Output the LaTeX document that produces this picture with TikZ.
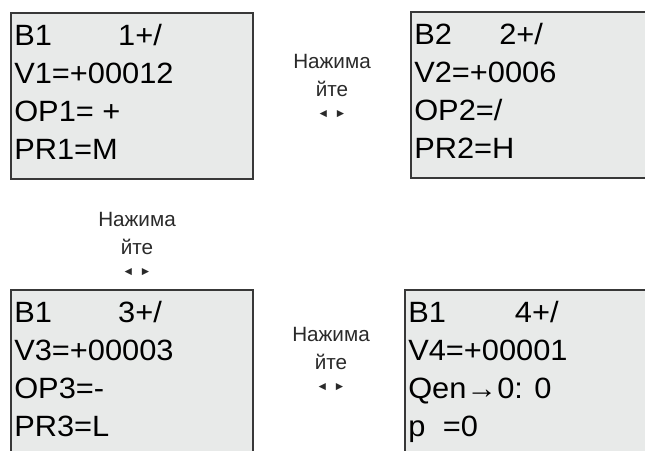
\documentclass[tikz,border=0pt]{standalone}
\usepackage{fontspec}
\setmainfont{Liberation Sans}
\newfontfamily\lcdfont[FakeStretch=1.05]{Liberation Sans}
\usetikzlibrary{positioning}

\definecolor{lcdgray}{HTML}{E8EAE9}
\definecolor{lcdframe}{HTML}{383838}
\definecolor{keytext}{HTML}{2A2A2A}

\newcommand{\presskeys}{Нажима\\йте\\[-5pt]{\fontsize{9}{9}\selectfont ◄\hspace{4pt}►}}
\newcommand{\smallarrow}{\raisebox{0pt}{\fontsize{22}{22}\selectfont →}}

\begin{document}
\begin{tikzpicture}[
    x=0.75pt, y=-0.75pt,
    lcd/.style={draw=lcdframe, line width=1.5pt, fill=lcdgray, rectangle,
        inner sep=0pt, outer sep=0pt, anchor=north west},
    lcdtext/.style={anchor=north west, inner sep=0pt, align=left, text=black,
        font=\lcdfont\fontsize{22}{28.6}\selectfont},
    keyhint/.style={anchor=north, inner sep=0pt, align=center, text=keytext,
        font=\fontsize{15.5}{21}\selectfont},
]
    \useasboundingbox (0,0) rectangle (645,450);

    % the four displays
    \node[lcd, minimum width=181.5pt, minimum height=124.9pt] (b1) at (11,12.5) {};
    \node[lcd, minimum width=194.25pt, minimum height=124.5pt] (b2) at (411,12) {};
    \node[lcd, minimum width=181.5pt, minimum height=142.9pt] (b3) at (11,289.5) {};
    \node[lcd, minimum width=198.75pt, minimum height=142.9pt] (b4) at (405,289.5) {};

    \node[lcdtext] (t1) at ([shift={(3,11)}]b1.north west)
        {\makebox[78pt][l]{B1}1+/\\V1=+00012\\OP1= +\\PR1=M};
    \node[lcdtext] (t2) at ([shift={(3,11)}]b2.north west)
        {\makebox[63.75pt][l]{B2}2+/\\V2=+0006\\OP2=/\\PR2=H};
    \node[lcdtext] (t3) at ([shift={(3,11)}]b3.north west)
        {\makebox[78pt][l]{B1}3+/\\V3=+00003\\OP3=-\\PR3=L};
    \node[lcdtext] (t4) at ([shift={(3,11)}]b4.north west)
        {\makebox[80pt][l]{B1}4+/\\V4=+00001\\Qen\smallarrow0: 0\\\makebox[26pt][l]{p}=0};

    % key hints between the displays
    \node[keyhint] (k12) at (332,54) {\presskeys};
    \node[keyhint] (k13) at (137,212) {\presskeys};
    \node[keyhint] (k34) at (331,327) {\presskeys};
\end{tikzpicture}
\end{document}
